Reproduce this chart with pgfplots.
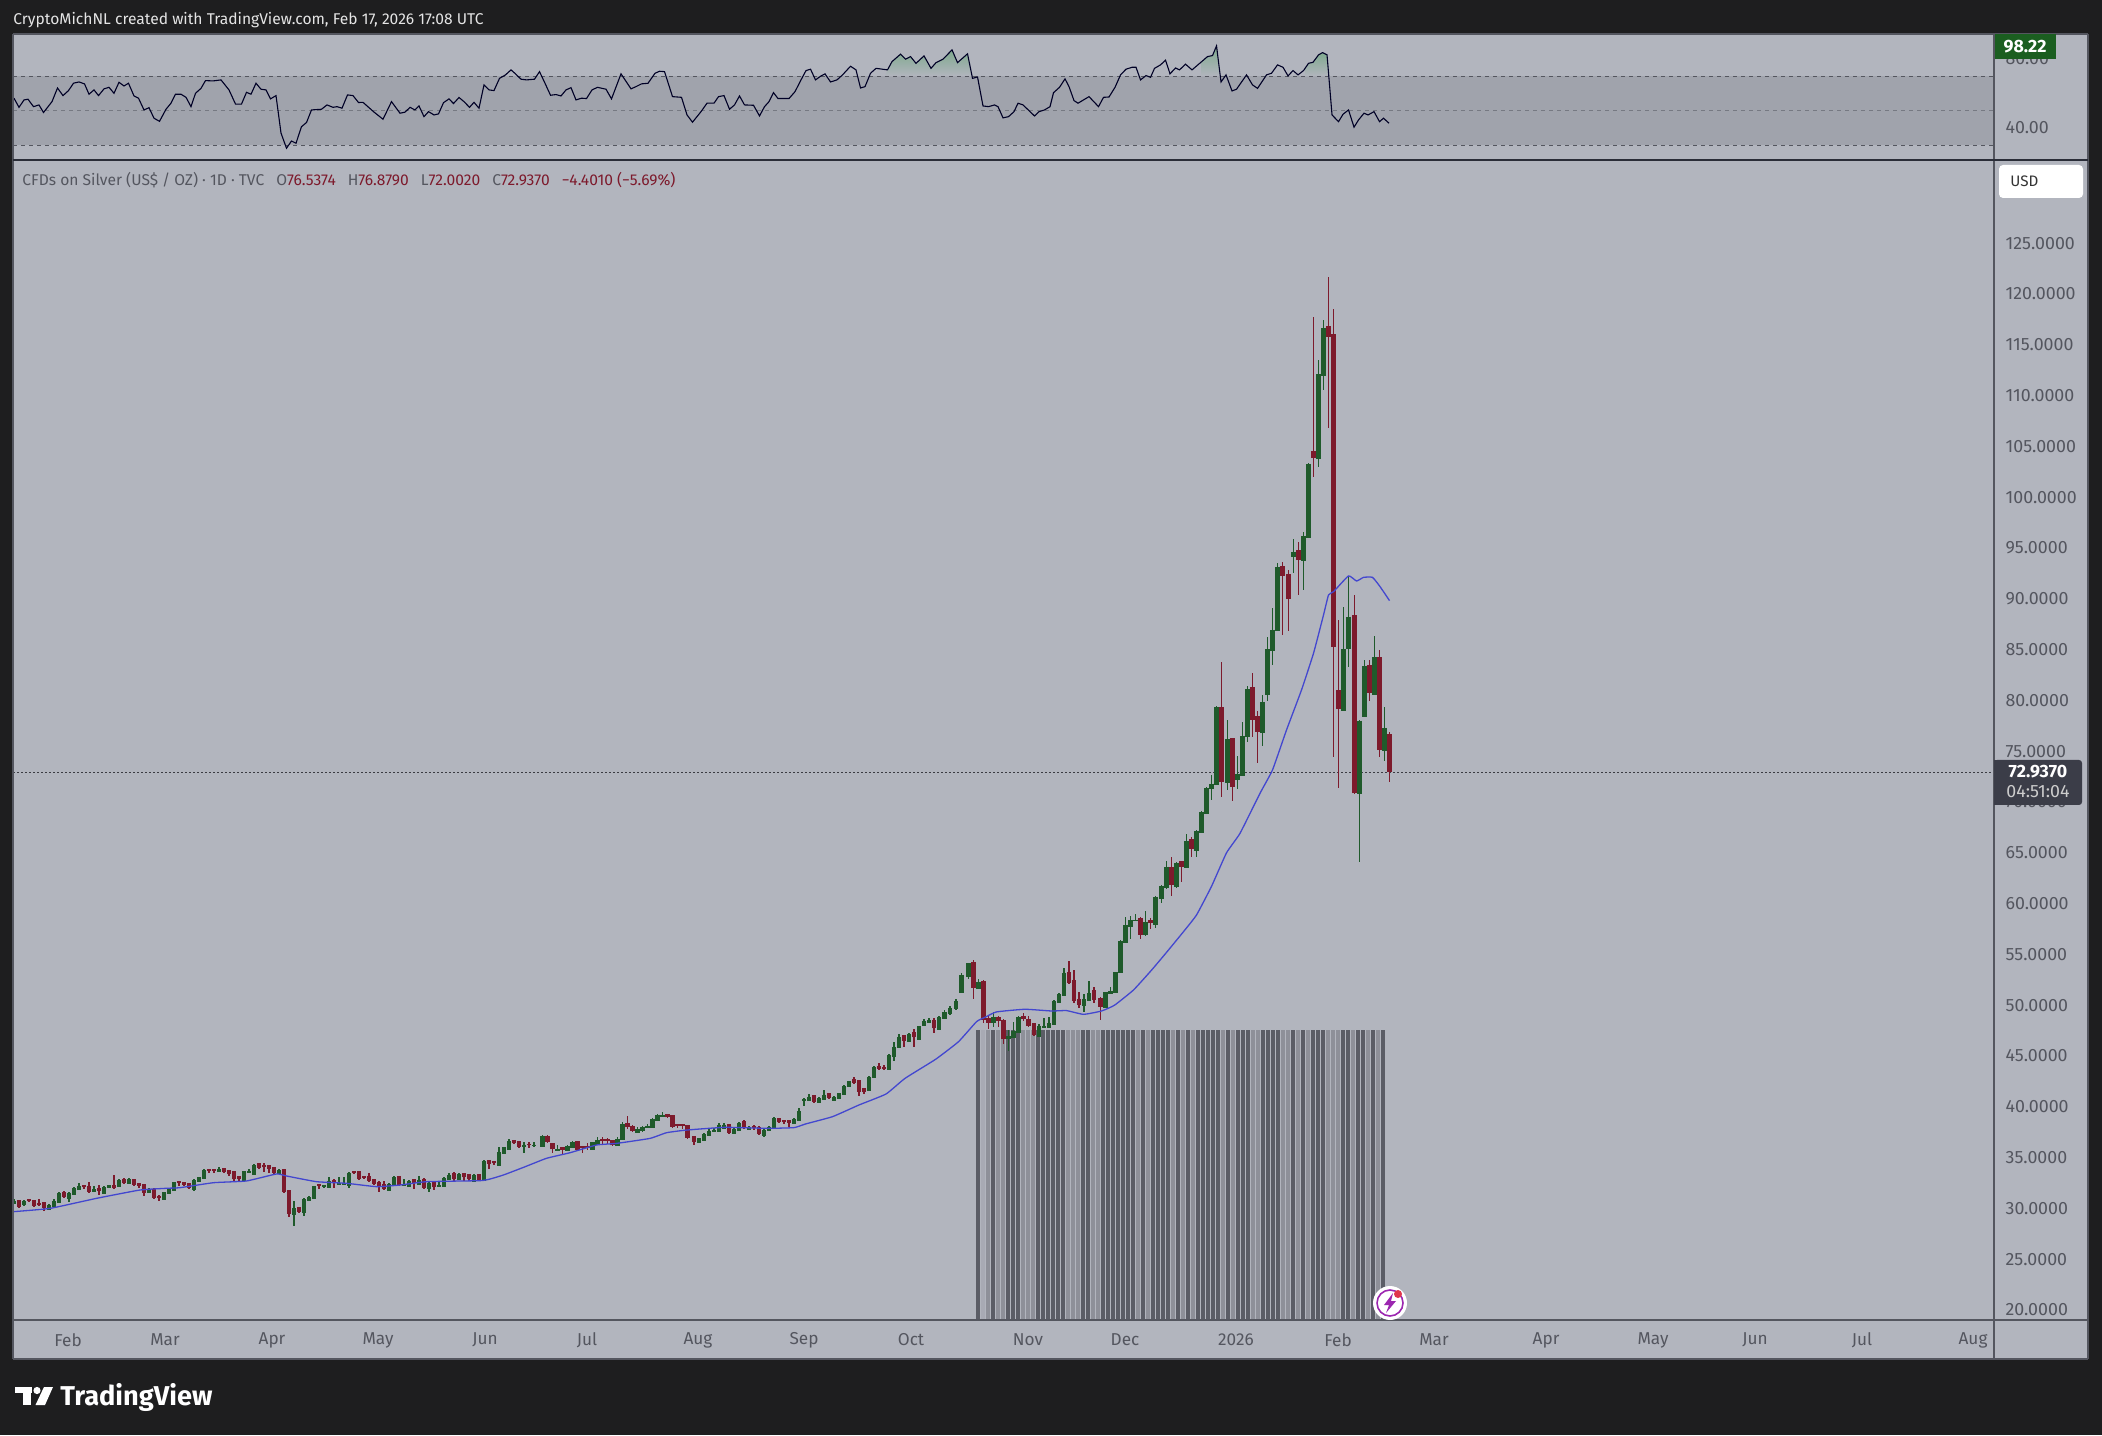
\documentclass[border=0pt]{standalone}
\usepackage{pgfplots}
\usepackage{pgfplotstable}
\usepackage{fontspec}
\setmainfont{Fira Sans}
\pgfplotsset{compat=1.18}
\definecolor{bgdark}{HTML}{1E1E1F}
\definecolor{panel}{HTML}{B2B5BE}
\definecolor{band}{HTML}{A0A3AC}
\definecolor{upc}{HTML}{1F5A2B}
\definecolor{dnc}{HTML}{7D1A2C}
\definecolor{lbl}{HTML}{54565F}
\definecolor{mac}{HTML}{4347CF}
\definecolor{barD}{HTML}{5B5D66}
\definecolor{barL}{HTML}{8E9099}
\definecolor{barV}{HTML}{A8AAB4}
\definecolor{boxc}{HTML}{3B3D48}
\definecolor{HTMLgreen}{HTML}{7FA98E}
\definecolor{HTMLbox}{HTML}{1B5E20}
\definecolor{HTMLpurple}{HTML}{9C27B0}
\definecolor{HTMLred}{HTML}{E0364C}
\definecolor{divider}{HTML}{2A2D38}
\pgfplotstableread{
x o h l c
0 30.57 30.89 30.43 30.73
1 30.66 30.83 30.0 30.10
2 30.43 30.83 30.24 30.73
3 30.83 30.89 30.63 30.70
4 30.73 30.83 30.10 30.24
5 30.40 30.89 30.24 30.30
6 30.50 30.57 29.78 30.07
7 30.0 30.43 29.91 30.34
8 30.27 30.89 30.17 30.73
9 30.66 31.65 30.6 31.55
10 31.48 31.71 30.99 31.15
11 31.09 31.65 30.66 31.55
12 31.42 32.14 31.35 31.98
13 31.98 32.47 31.91 32.21
14 32.21 32.30 31.88 32.07
15 32.11 32.6 31.58 31.65
16 31.75 32.21 31.65 31.88
17 31.91 32.3 31.29 31.71
18 31.58 32.17 31.42 32.07
19 32.11 32.34 31.98 32.27
20 32.21 33.29 31.91 31.98
21 32.24 32.86 32.17 32.76
22 32.79 33.0 32.40 32.47
23 32.57 33.03 32.47 32.86
24 32.79 32.93 32.27 32.34
25 32.4 32.53 32.04 32.21
26 32.3 32.37 31.22 31.55
27 31.68 31.98 31.62 31.85
28 31.81 31.98 30.99 31.06
29 31.15 31.29 30.76 30.99
30 30.99 31.65 30.89 31.58
31 31.55 31.98 31.48 31.88
32 31.81 32.63 31.75 32.57
33 32.60 32.7 32.24 32.47
34 32.5 32.63 32.21 32.34
35 32.4 32.47 31.91 31.98
36 31.94 32.86 31.75 32.79
37 32.73 33.12 32.66 33.06
38 33.03 33.85 32.96 33.78
39 33.78 33.88 33.45 33.71
40 33.75 33.81 33.52 33.71
41 33.71 34.11 33.62 33.85
42 33.85 33.91 33.45 33.55
43 33.68 33.78 33.19 33.35
44 33.52 33.62 32.63 32.86
45 33.06 33.19 32.73 32.86
46 32.79 33.71 32.73 33.68
47 33.62 33.85 33.52 33.71
48 33.45 34.34 33.39 34.27
49 34.37 34.5 33.94 34.01
50 34.17 34.44 33.62 34.04
51 34.11 34.3 33.52 33.91
52 33.98 34.11 33.39 33.52
53 33.52 33.85 33.45 33.78
54 33.78 33.85 31.62 31.65
55 31.71 31.75 29.12 29.45
56 29.52 30.73 28.27 30.0
57 30.04 30.1 29.58 29.65
58 29.65 30.99 29.25 30.89
59 30.89 31.22 30.83 31.09
60 31.02 32.21 30.96 32.21
61 32.24 32.3 31.88 32.2
62 32.21 32.3 31.98 32.27
63 32.14 33.06 32.07 32.7
64 32.66 32.86 31.98 32.47
65 32.4 33.06 32.37 32.53
66 32.43 33.06 32.27 32.5
67 32.37 33.62 32.04 33.52
68 33.52 33.62 33.39 33.45
69 33.52 33.58 32.79 32.86
70 33.06 33.19 32.86 33.0
71 33.06 33.45 32.57 32.7
72 32.79 32.93 32.34 32.4
73 32.47 32.7 31.65 32.14
74 32.3 32.7 31.81 31.88
75 31.88 32.47 31.81 32.37
76 32.3 33.19 32.24 33.06
77 33.06 33.12 32.21 32.27
78 32.33 32.86 32.2 32.4
79 32.2 32.79 32.14 32.66
80 32.73 32.92 31.88 32.47
81 32.4 33.19 32.33 32.79
82 32.79 32.96 31.97 32.04
83 32.04 32.56 31.65 32.47
84 32.56 32.63 31.81 32.1
85 32.24 32.63 32.17 32.3
86 32.2 33.06 32.14 32.96
87 32.92 33.45 32.86 33.32
88 33.32 33.58 32.73 32.86
89 32.92 33.45 32.79 33.35
90 33.38 33.52 32.73 33.06
91 33.22 33.38 32.73 32.86
92 32.73 33.38 32.63 33.29
93 33.25 33.32 32.73 32.76
94 32.79 34.76 32.73 34.66
95 34.66 34.73 33.91 34.4
96 34.53 34.66 34.24 34.43
97 34.3 36.07 34.24 35.55
98 35.48 36.07 35.42 36.0
99 35.84 36.83 35.81 36.63
100 36.63 36.73 36.3 36.4
101 36.47 36.57 35.98 36.07
102 36.17 36.57 35.42 36.27
103 36.24 36.57 35.91 36.2
104 36.24 36.5 36.0 36.27
105.7 36.17 37.22 36.11 37.12
106.7 37.03 37.22 36.4 36.53
107.7 36.3 36.4 35.48 35.81
108.7 35.81 36.24 35.75 35.88
109.7 35.94 36.07 35.25 35.75
110.7 35.75 36.2 35.68 36.14
111.7 36.07 36.66 36.0 36.57
112.7 36.53 36.63 35.75 35.78
113.7 35.98 36.07 35.42 35.91
114.7 36.0 36.47 35.75 35.94
115.7 35.84 36.57 35.81 36.5
116.7 36.4 37.06 36.24 36.73
117.7 36.76 37.06 36.24 36.66
118.7 36.7 36.89 36.3 36.63
119.7 36.63 36.73 36.14 36.2
120.7 36.24 36.99 36.17 36.86
121.7 36.86 38.47 36.8 38.3
122.7 38.3 39.09 37.78 37.98
123.7 38.01 38.17 37.48 37.58
124.7 37.55 37.98 37.45 37.85
125.7 37.71 38.14 37.55 38.04
126.7 38.07 38.3 37.98 38.11
127.7 38.04 38.86 37.98 38.76
128.7 38.76 39.29 38.7 39.22
129.7 39.16 39.45 39.03 39.19
130.7 39.19 39.29 38.86 38.96
131.7 39.03 39.16 37.98 38.04
132.7 38.14 38.3 37.88 38.07
133.7 38.14 38.27 37.78 38.07
134.7 38.04 38.11 36.8 36.96
136 36.99 37.05 36.24 36.57
137 36.57 36.9 36.4 36.9
138 36.8 37.39 36.73 37.29
139 37.22 37.78 37.16 37.65
140 37.65 37.88 37.55 37.72
141 37.65 38.37 37.58 38.21
142 37.98 38.37 37.88 38.17
143 38.21 38.31 37.39 37.45
144 37.45 37.88 37.39 37.78
145 37.72 38.54 37.65 38.44
146 38.47 38.7 37.78 37.88
147 37.88 38.11 37.72 37.98
148 37.98 38.21 37.72 37.95
149 37.88 38.11 37.22 37.32
150 37.22 37.88 36.99 37.72
151 37.72 38.11 37.65 38.04
152 37.98 38.96 37.91 38.86
153 38.8 38.86 38.37 38.47
154 38.54 38.64 38.31 38.5
155 38.54 38.7 38.04 38.44
156 38.44 38.86 38.37 38.83
157 38.77 39.85 38.7 39.58
158 40.67 40.83 40.08 40.73
159 40.67 41.26 40.6 41.0
160 41.03 41.16 40.41 40.5
161 40.5 40.93 40.44 40.83
162 40.77 41.65 40.7 41.19
163 41.26 41.39 40.77 40.83
164 40.67 41.06 40.6 41.0
165 40.93 41.39 40.86 41.32
166 41.32 42.14 41.25 42.08
167 42.08 42.57 41.98 42.54
168 42.64 42.9 42.24 42.37
169 42.47 42.57 41.06 41.49
170 41.72 41.82 41.26 41.46
171 41.65 43.06 41.59 42.96
172 42.96 44.05 42.9 43.95
173 43.88 44.34 43.62 43.75
174 43.82 44.11 43.62 43.72
175 43.75 45.19 43.62 45.1
176 45.03 46.41 44.54 45.92
177 45.92 47.13 45.85 46.83
178 46.9 46.97 45.85 46.5
179 46.5 47.23 46.41 47.16
180 47.23 47.65 45.92 46.83
181 46.74 47.98 46.64 47.92
182 48.05 48.6 47.98 48.45
183 48.4 48.7 48.2 48.5
184 48.42 48.7 47.3 47.72
185 47.72 48.95 47.65 48.8
186.1 48.8 49.5 48.7 49.3
187.2 49.3 49.9 49.0 49.7
188.4 49.7 50.6 49.5 50.4
189.5 51.34 53.14 51.27 52.98
190.9 52.91 54.19 52.55 54.12
191.9 54.12 54.45 50.61 51.73
192.9 51.73 52.55 51.66 52.3
193.9 52.3 52.48 48.29 48.55
194.9 48.61 48.94 47.63 48.29
195.9 48.35 49.37 47.83 48.81
196.9 48.74 48.94 47.83 48.48
197.9 48.45 48.61 46.19 46.68
198.9 46.84 47.56 45.5 46.97
199.9 46.91 48.38 46.74 47.5
200.9 47.4 48.94 47.33 48.88
201.9 48.84 49.27 48.45 48.61
202.9 48.55 48.94 47.83 47.96
204 48.09 48.22 46.97 47.07
205 46.97 48.15 46.91 47.96
206 47.83 48.71 47.73 47.92
207 47.89 48.81 47.83 48.22
208 48.22 50.52 48.15 50.42
209 50.32 51.24 50.25 51.11
210 51.04 53.63 50.97 53.2
211 53.14 54.35 52.09 52.22
212 52.32 53.47 50.25 50.45
213 50.52 51.34 49.7 50.02
214 50.02 51.11 49.37 50.58
215 50.58 52.39 50.52 51.17
216 51.34 51.83 50.25 50.52
217.3 50.61 50.78 48.55 49.86
218.3 49.86 51.34 49.7 51.27
219.3 51.27 51.76 51.17 51.4
220.3 51.34 53.3 51.27 53.24
221.3 53.3 56.42 53.2 56.32
222.3 56.26 58.72 56.16 57.9
223.3 57.8 58.79 56.49 58.39
224.3 58.39 58.95 58.3 58.42
225.3 58.46 58.72 56.49 56.92
226.3 57.01 59.28 56.82 58.23
227.3 58.23 58.56 57.54 58.06
228.3 58.0 60.75 57.57 60.69
229.5 60.59 61.84 60.1 61.74
230.5 61.61 64.23 61.41 63.64
231.5 63.51 64.56 60.75 61.84
232.5 61.74 64.13 61.51 64.03
233.5 64.03 64.2 62.16 63.64
234.5 63.64 66.85 63.55 66.2
235.5 66.2 66.53 64.62 65.38
236.5 65.28 67.25 64.56 67.18
237.5 67.08 69.12 67.0 69.02
238.5 68.89 71.5 68.83 71.38
239.5 71.38 72.66 70.2 71.78
240.5 71.78 79.45 71.68 79.35
241.5 79.26 83.78 70.5 72.0
242.7 72.0 78.08 71.19 76.21
243.7 76.21 76.34 70.1 71.48
244.7 72.27 74.53 71.29 72.76
245.7 72.7 77.85 72.63 76.5
246.7 76.5 81.42 75.91 81.13
247.7 81.22 82.67 76.44 78.08
248.7 78.37 78.96 73.81 76.9
249.7 76.9 80.54 75.52 79.85
250.7 80.63 86.21 79.95 85.06
251.7 84.96 89.1 83.49 86.93
252.7 86.93 93.49 86.85 93.13
253.7 93.13 93.66 86.44 92.25
254.9 92.34 92.84 86.83 89.98
255.9 94.26 95.86 92.57 94.65
256.9 94.65 95.63 90.38 93.83
257.9 93.83 96.62 90.87 96.19
258.9 96.13 103.4 96.05 103.28
259.9 104.46 117.74 102.03 103.87
260.9 103.87 113.51 103.01 112.13
261.9 112.03 117.45 110.56 116.66
262.9 116.76 121.71 106.82 115.77
263.9 115.97 118.53 74.47 85.29
264.9 80.93 87.92 71.42 79.16
265.9 79.06 89.16 78.98 85.06
266.9 85.16 92.25 83.32 88.24
268.1 88.24 90.38 70.8 70.86
269.1 70.86 78.08 64.14 78.01
270.1 78.5 83.98 78.4 83.39
271.1 83.39 83.98 79.98 80.77
272.1 80.63 86.34 80.55 84.27
273.1 84.18 84.96 74.47 75.12
274.1 75.12 79.39 74.07 77.29
275.1 76.5374 76.879 72.002 72.937
}\candles
\pgfplotstableread{
x r
0 57.3
1 52.0
2 56.3
2.8 56.7
3.9 52.4
5 53.4
5.9 49.0
7.6 55.3
8.7 63.2
9.8 58.8
10.9 61.7
11.9 66.0
13 66.7
14.1 65.6
15 59.6
16 62.1
16.9 58.8
18 62.7
19 63.6
20 60.15
21 66.5
22 64.4
22.9 65.95
24 58.6
24.9 57.3
26 50.5
27 51.8
28 45.7
29.1 43.9
30.4 50.9
31.4 54.4
32.3 59.6
33.4 59.6
34.4 57.8
35.4 52.4
36.3 60.15
37.4 63.0
38.3 67.5
39.8 67.3
41.4 67.9
43 62.1
44.3 53.9
45.5 53.9
46.5 60.7
47.4 59.6
48.4 65.95
49.4 62.5
50.4 62.1
51.3 56.9
52.4 58.8
53.4 37.1
54.5 28.3
55.5 32.5
56.4 31.2
57.5 40.8
58.5 43.2
59.5 50.5
61.5 50.9
62.6 53.4
63.8 52.0
64.6 52.4
65.6 51.5
66.7 59.2
67.8 58.8
68.9 54.8
69.8 54.9
71.9 49.5
73.8 45.1
75.5 55.3
77.2 48.6
78.2 49.2
79.2 52.0
80.2 50.5
81.0 52.8
82.0 46.6
82.9 49.5
84.0 47.6
84.9 48.2
85.9 54.7
87.0 56.9
87.9 54.2
89.0 57.7
90.0 55.3
91.1 52.0
92.0 54.9
93.0 51.5
94.0 65.0
95.0 62.1
96.0 61.7
97.1 68.8
98.3 70.8
99.4 73.7
100.3 71.4
101.4 68.3
102.5 67.9
104.1 68.3
105.1 72.7
106.2 65.95
107.3 59.0
108.4 59.4
109.4 58.6
110.4 62.1
111.4 63.4
112.4 56.3
113.5 57.3
114.5 57.1
115.6 62.1
116.7 63.6
118.4 62.5
119.5 56.9
121.4 71.4
123.4 62.7
124.4 64.0
125.5 65.6
126.8 65.95
128.2 71.75
129.1 72.9
130.1 72.7
131.7 58.2
133.5 57.8
134.6 47.6
135.7 43.4
137.4 49.5
138.6 54.4
140.0 54.4
140.9 58.2
142.0 58.8
143.1 50.9
144.1 53.4
145.1 58.6
146.1 53.4
147.9 53.2
149.1 47.0
150.1 52.4
151.0 55.3
151.9 60.5
152.8 57.1
155.0 57.1
156.2 61.1
157.4 67.9
158.4 73.3
159.3 74.1
160.3 67.9
161.4 70.2
162.2 71.4
163.3 66.7
164.6 67.9
165.7 70.8
167.3 75.8
168.4 73.7
169.3 63.2
170.2 64.0
171.3 71.75
172.4 74.6
174.7 73.7
175.6 78.5
177.3 82.8
178.3 79.9
179.3 81.4
180.4 77.5
182.0 81.8
183.4 74.6
184.4 77.9
185.8 79.9
187.6 85.3
188.7 77.9
190.7 83.0
191.7 68.8
192.7 69.6
193.8 52.8
194.9 52.4
196.1 53.4
196.8 52.4
197.8 45.9
198.9 46.6
200.0 49.5
200.8 54.4
201.8 53.4
204.1 47.0
205.0 49.5
206.1 50.5
207.2 52.4
207.9 60.5
209.1 63.6
210.2 68.5
211.0 64.0
212.0 55.9
212.8 54.4
215.0 58.2
216.9 52.4
217.9 57.8
219.0 58.0
220.2 63.6
221.3 70.8
222.4 74.1
223.6 75.2
224.4 75.2
225.3 67.9
226.4 70.4
227.3 69.4
228.1 74.6
229.3 76.6
230.3 79.3
231.2 71.4
232.3 74.8
233.1 73.7
234.3 77.0
235.6 73.7
238.7 81.4
239.7 82.0
240.5 87.6
241.4 66.7
242.4 70.8
243.6 61.5
244.5 62.5
246.5 70.8
247.7 65.0
248.7 63.0
250.5 70.8
251.5 71.75
252.7 76.6
253.8 75.2
254.8 70.2
255.8 73.3
256.8 70.8
257.9 73.3
258.9 77.5
259.8 78.1
260.9 82.4
261.7 83.7
262.6 82.4
263.6 47.6
264.9 43.7
265.8 48.0
266.9 50.5
268.0 40.5
268.9 44.7
270.0 48.6
270.8 47.6
272.0 49.5
273.1 43.7
273.9 45.7
275.0 42.8
}\rsi
\pgfplotstableread{
x m
-0.1 29.68
7.2 30.0
16.5 30.99
25.2 31.81
30.5 31.98
33.2 32.04
39.9 32.53
46.5 32.7
52.5 33.39
54.5 33.19
60.5 32.63
66.5 32.47
72.5 32.14
77.2 32.3
82.5 32.63
93.2 32.73
95.2 32.89
97.9 33.29
101.9 34.04
106.5 34.93
111.2 35.48
116.5 36.24
120.5 36.4
127.2 36.89
130.5 37.45
134.5 37.71
142.2 37.98
150.6 37.88
156 37.95
158.3 38.31
163.7 39.03
169 40.18
174.4 41.26
178.2 42.8
184.3 44.67
188.9 46.41
192.5 48.38
194.2 48.81
196.5 49.34
202.2 49.6
207.5 49.43
210.5 49.47
213.9 49.1
217.5 49.43
220.1 50.0
223.9 51.5
227.5 53.45
230.5 55.2
233.9 57.24
236.5 58.88
239.5 61.7
242.5 65.0
245.2 66.92
249.2 70.86
251.7 73.16
254.5 77.09
257.5 81.03
259.9 84.64
261.9 88.41
262.9 90.38
263.9 90.7
266.9 92.25
268.5 91.75
269.9 92.11
271.7 92.11
273.2 91.2
275.1 89.82
}\ma
\begin{document}
\begin{tikzpicture}
\useasboundingbox (0,0) rectangle (1051pt,717.5pt);
\fill[bgdark] (0,0) rectangle (1051pt,717.5pt);
\begin{scope}[x=0.5pt,y=-0.5pt,yshift=717.5pt]
\fill[panel] (13,34) rectangle (2088,1359);
\end{scope}
% main price axis
\begin{axis}[
  at={(6.5pt,57.5pt)}, anchor=south west, scale only axis,
  width=990.5pt, height=580pt,
  xmin=-0.2, xmax=396, ymin=19.016, ymax=133.19,
  axis line style={draw=none}, major tick length=0pt,
  unbounded coords=discard,
  ytick={20,25,30,35,40,45,50,55,60,65,70,75,80,85,90,95,100,105,110,115,120,125},
  yticklabels={20.0000,25.0000,30.0000,35.0000,40.0000,45.0000,50.0000,55.0000,60.0000,65.0000,70.0000,75.0000,80.0000,85.0000,90.0000,95.0000,100.0000,105.0000,110.0000,115.0000,120.0000,125.0000},
  yticklabel pos=right,
  yticklabel style={anchor=west, font=\fontsize{8.9}{10}\selectfont, text=lbl, xshift=5.6pt, inner sep=0pt},
  xtick={10.8,30.2,51.6,72.8,94.2,114.6,136.8,158,179.4,202.8,222.2,244.4,264.8,284,306.4,327.8,348.2,369.6,391.8},
  xticklabels={Feb,Mar,Apr,May,Jun,Jul,Aug,Sep,Oct,Nov,Dec,2026,Feb,Mar,Apr,May,Jun,Jul,Aug},
  xticklabel style={font=\fontsize{8.6}{10}\selectfont, text=lbl, anchor=center, yshift=-10pt, inner sep=0pt},
  clip=true,
]
% striped indicator bars
\addplot[ycomb, barV, line width=2.15pt, no marks] coordinates {(193.8,47.56)};
\addplot[ycomb, barL, line width=2.15pt, no marks] coordinates {(194.8,47.56)(196.8,47.56)(197.8,47.56)(201.8,47.56)(202.8,47.56)(203.8,47.56)(210.8,47.56)(211.8,47.56)(212.8,47.56)(215.8,47.56)(216.8,47.56)(224.8,47.56)(226.8,47.56)(231.8,47.56)(233.8,47.56)(235.8,47.56)(241.8,47.56)(243.8,47.56)(247.8,47.56)(248.8,47.56)(253.8,47.56)(254.8,47.56)(256.8,47.56)(258.8,47.56)(262.8,47.56)(263.8,47.56)(264.8,47.56)(267.8,47.56)(270.8,47.56)(272.8,47.56)};
\addplot[ycomb, barD, line width=2.15pt, no marks] coordinates {(192.8,47.56)(195.8,47.56)(198.8,47.56)(199.8,47.56)(200.8,47.56)(204.8,47.56)(205.8,47.56)(206.8,47.56)(207.8,47.56)(208.8,47.56)(209.8,47.56)(213.8,47.56)(214.8,47.56)(217.8,47.56)(218.8,47.56)(219.8,47.56)(220.8,47.56)(221.8,47.56)(222.8,47.56)(223.8,47.56)(225.8,47.56)(227.8,47.56)(228.8,47.56)(229.8,47.56)(230.8,47.56)(232.8,47.56)(234.8,47.56)(236.8,47.56)(237.8,47.56)(238.8,47.56)(239.8,47.56)(240.8,47.56)(242.8,47.56)(244.8,47.56)(245.8,47.56)(246.8,47.56)(249.8,47.56)(250.8,47.56)(251.8,47.56)(252.8,47.56)(255.8,47.56)(257.8,47.56)(259.8,47.56)(260.8,47.56)(261.8,47.56)(265.8,47.56)(266.8,47.56)(268.8,47.56)(269.8,47.56)(271.8,47.56)(273.8,47.56)};
% current price line
\addplot[lbl!70!black, line width=0.5pt, dash pattern=on 0.8pt off 1.2pt, no marks] coordinates {(-0.2,72.937)(396,72.937)};
% wicks, up
\addplot[draw=none, no markers, x filter/.expression={\thisrow{c}>=\thisrow{o} ? x : nan},
  error bars/.cd, y dir=both, y explicit, error mark=none, error bar style={color=upc, line width=0.6pt}]
  table[x=x, y=c, y error plus expr=\thisrow{h}-\thisrow{c}, y error minus expr=\thisrow{c}-\thisrow{l}] {\candles};
% wicks, down
\addplot[draw=none, no markers, x filter/.expression={\thisrow{c}<\thisrow{o} ? x : nan},
  error bars/.cd, y dir=both, y explicit, error mark=none, error bar style={color=dnc, line width=0.6pt}]
  table[x=x, y=c, y error plus expr=\thisrow{h}-\thisrow{c}, y error minus expr=\thisrow{c}-\thisrow{l}] {\candles};
% bodies, up
\addplot[draw=none, no markers, x filter/.expression={\thisrow{c}>=\thisrow{o} ? x : nan},
  error bars/.cd, y dir=minus, y explicit, error mark=none, error bar style={color=upc, line width=2.35pt}]
  table[x=x, y=c, y error minus expr=\thisrow{c}-\thisrow{o}+0.12] {\candles};
% bodies, down
\addplot[draw=none, no markers, x filter/.expression={\thisrow{c}<\thisrow{o} ? x : nan},
  error bars/.cd, y dir=plus, y explicit, error mark=none, error bar style={color=dnc, line width=2.35pt}]
  table[x=x, y=c, y error plus expr=\thisrow{o}-\thisrow{c}+0.12] {\candles};
% moving average
\addplot[mac, line width=0.65pt, no marks, smooth, tension=0.25] table[x=x,y=m] {\ma};
\end{axis}
% RSI axis
\begin{axis}[
  at={(6.5pt,637.5pt)}, anchor=south west, scale only axis,
  width=990.5pt, height=63pt,
  xmin=-0.2, xmax=396, ymin=21.5, ymax=94.5,
  axis line style={draw=none}, major tick length=0pt,
  xtick=\empty,
  ytick={40,80}, yticklabels={40.00,80.00},
  yticklabel pos=right,
  yticklabel style={anchor=west, font=\fontsize{8.9}{10}\selectfont, text=lbl, xshift=5.6pt, inner sep=0pt},
]
\addplot[fill=band, draw=none] coordinates {(-0.2,30)(396,30)(396,70)(-0.2,70)} --cycle;
\addplot[draw=none, top color=HTMLgreen, bottom color=panel] coordinates {(174.2,70)(174.7,73.7)(175.6,78.5)(177.3,82.8)(178.3,79.9)(179.3,81.4)(180.4,77.5)(182,81.8)(183.4,74.6)(184.4,77.9)(185.8,79.9)(187.6,85.3)(188.7,77.9)(190.7,83)(191.7,70)} --cycle;
\addplot[draw=none, top color=HTMLgreen, bottom color=panel] coordinates {(237.4,70)(237.4,78.2)(238.7,81.4)(239.7,82)(240.5,87.6)(241.2,70)} --cycle;
\addplot[draw=none, top color=HTMLgreen, bottom color=panel] coordinates {(258.2,70)(258.2,74.5)(258.9,77.5)(259.8,78.1)(260.9,82.4)(261.7,83.7)(262.6,82.4)(263.2,70)} --cycle;
\addplot[lbl, line width=0.45pt, dash pattern=on 2.2pt off 1.8pt, no marks] coordinates {(-0.2,70)(396,70)};
\addplot[lbl!55!band, line width=0.45pt, dash pattern=on 2.2pt off 1.8pt, no marks] coordinates {(-0.2,50)(396,50)};
\addplot[lbl, line width=0.45pt, dash pattern=on 2.2pt off 1.8pt, no marks] coordinates {(-0.2,30)(396,30)};
\addplot[black!85!blue, line width=0.55pt, no marks] table[x=x,y=r] {\rsi};
\end{axis}
% chrome, in reference pixels
\begin{scope}[x=0.5pt,y=-0.5pt,yshift=717.5pt]
\draw[lbl, line width=0.8pt] (13,34) -- (2088,34);
\draw[lbl, line width=0.8pt] (13,1359) -- (2088,1359);
\draw[lbl, line width=0.6pt] (13,34) -- (13,1359);
\draw[lbl, line width=0.6pt] (2088,34) -- (2088,1359);
\draw[lbl, line width=0.6pt] (1994,34) -- (1994,1359);
\draw[lbl, line width=0.6pt] (13,1320) -- (2088,1320);
\draw[divider, line width=0.65pt] (13,160) -- (2088,160);
% header
\node[anchor=west, inner sep=0pt, text=white!90!black, font=\fontsize{7.8}{9}\selectfont] at (13,20) {CryptoMichNL created with TradingView.com, Feb 17, 2026 17:08 UTC};
\node[anchor=west, inner sep=0pt, font=\fontsize{7.8}{9}\selectfont, text=lbl] at (22,180) {CFDs on Silver (US\$ / OZ) · 1D · TVC\hspace{6pt}O\textcolor{dnc}{76.5374}\hspace{6pt}H\textcolor{dnc}{76.8790}\hspace{6pt}L\textcolor{dnc}{72.0020}\hspace{6pt}C\textcolor{dnc}{72.9370}\hspace{6pt}\textcolor{dnc}{−4.4010 (−5.69\%)}};
% RSI value box
\fill[HTMLbox] (1995,34) rectangle (2056,59);
\node[text=white, font=\fontsize{8.9}{10}\bfseries\selectfont, inner sep=0pt] at (2025,46.5) {98.22};
% USD button
\fill[white, rounded corners=2pt] (1999,165) rectangle (2083,198);
\node[anchor=west, inner sep=0pt, text=black!80, font=\fontsize{7.6}{9}\selectfont] at (2010,181.5) {USD};
% current price box
\fill[boxc, rounded corners=1.5pt] (1994,760) rectangle (2082,805);
\fill[boxc] (1994,760) rectangle (2000,805);
\node[text=white, font=\fontsize{8.9}{10}\bfseries\selectfont, inner sep=0pt] at (2038,772) {72.9370};
\node[text=white!80!black, font=\fontsize{8.9}{10}\selectfont, inner sep=0pt] at (2038,792) {04:51:04};
% lightning badge
\fill[white] (1390,1303) circle (17);
\draw[HTMLpurple, line width=0.8pt] (1390,1303) circle (13);
\fill[HTMLpurple] (1393,1293) -- (1384,1305) -- (1389,1305) -- (1386,1313) -- (1396,1301) -- (1391,1301) -- cycle;
\fill[HTMLred] (1398,1294) circle (4);
% logo
\fill[white] (15,1387) rectangle (32,1393);
\fill[white] (23,1393) rectangle (31,1405);
\fill[white] (37,1390.5) circle (3.6);
\fill[white] (44,1387) -- (53,1387) -- (45,1405) -- (35.5,1405) -- cycle;
\node[anchor=west, inner sep=0pt, text=white, font=\fontsize{13.6}{15}\selectfont\bfseries] at (60,1397) {TradingView};
\end{scope}
\end{tikzpicture}
\end{document}
